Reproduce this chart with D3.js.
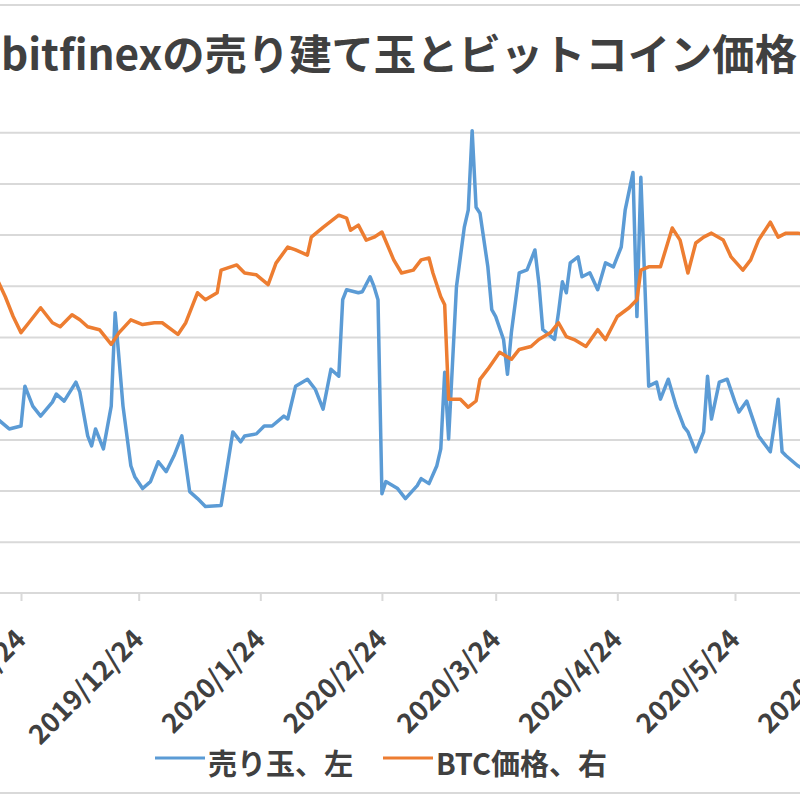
<!DOCTYPE html>
<html><head><meta charset="utf-8">
<script src="https://cdn.jsdelivr.net/npm/d3@7"></script>
<style>html,body{margin:0;padding:0;background:#fff;} svg{display:block;}</style>
</head><body>
<svg id="c" width="800" height="800"></svg>
<script>
const titleText = "bitfinexの売り建て玉とビットコイン価格";
const seriesNames = ["売り玉、左", "BTC価格、右"];
const tickDates = ["2019-11-24","2019-12-24","2020-01-24","2020-02-24","2020-03-24","2020-04-24","2020-05-24","2020-06-24"];
const leftTicks = [5000,10000,15000,20000,25000,30000,35000,40000,45000];

const shortDates = ["2019-11-18","2019-11-21","2019-11-24","2019-11-25","2019-11-27","2019-11-29",
"2019-12-02","2019-12-03","2019-12-05","2019-12-08","2019-12-09","2019-12-11","2019-12-12","2019-12-13","2019-12-15","2019-12-17","2019-12-18","2019-12-20","2019-12-22","2019-12-23","2019-12-25","2019-12-27","2019-12-29","2019-12-31",
"2020-01-02","2020-01-04","2020-01-06","2020-01-08","2020-01-10","2020-01-14","2020-01-17","2020-01-19","2020-01-20","2020-01-23","2020-01-25","2020-01-27","2020-01-30","2020-01-31",
"2020-02-02","2020-02-05","2020-02-07","2020-02-09","2020-02-11","2020-02-13","2020-02-14","2020-02-15","2020-02-18","2020-02-19","2020-02-21","2020-02-22","2020-02-23","2020-02-24","2020-02-25","2020-02-28",
"2020-03-01","2020-03-04","2020-03-05","2020-03-07","2020-03-09","2020-03-10","2020-03-11","2020-03-12","2020-03-14","2020-03-16","2020-03-17","2020-03-18","2020-03-19","2020-03-20","2020-03-22","2020-03-23","2020-03-24","2020-03-26","2020-03-27","2020-03-28","2020-03-30",
"2020-04-01","2020-04-03","2020-04-04","2020-04-05","2020-04-08","2020-04-09","2020-04-10","2020-04-11","2020-04-12","2020-04-14","2020-04-15","2020-04-17","2020-04-19","2020-04-21","2020-04-23","2020-04-25","2020-04-26","2020-04-28","2020-04-29","2020-04-30",
"2020-05-02","2020-05-04","2020-05-05","2020-05-07","2020-05-09","2020-05-11","2020-05-12","2020-05-14","2020-05-16","2020-05-17","2020-05-18","2020-05-20","2020-05-22","2020-05-24","2020-05-25","2020-05-27","2020-05-30",
"2020-06-02","2020-06-04","2020-06-05","2020-06-06","2020-06-09","2020-06-12"];
const shortValues = [16990,16020,16310,20200,18250,17280,
18640,19420,18740,20590,19610,15340,14370,16020,14080,18250,27380,18250,12430,11360,10200,10880,12820,11850,
13400,15340,9900,9220,8450,8540,15730,14760,15340,15540,16310,16310,17280,16990,
20200,20880,19900,17960,21850,21170,28640,29620,29320,29420,30880,29910,28640,9700,10880,10200,
9220,10490,11170,10680,12430,14080,21560,15050,29910,35730,37380,45150,37670,37090,31850,27670,26990,24760,21360,25440,31270,
31560,33500,30300,25730,24760,27380,30390,29320,32240,32820,30880,31270,29620,32240,31850,33790,37380,41070,26990,40590,
20200,20590,18930,20880,18250,16220,15730,13790,15730,21170,16990,20590,20880,18640,17670,18740,15340,
13790,18930,13790,13400,12430,11800];

const priceDates = ["2019-11-18","2019-11-20","2019-11-22","2019-11-24","2019-11-26","2019-11-29",
"2019-12-02","2019-12-04","2019-12-07","2019-12-09","2019-12-11","2019-12-14","2019-12-17","2019-12-19","2019-12-22","2019-12-25","2019-12-28","2019-12-30",
"2020-01-03","2020-01-05","2020-01-07","2020-01-08","2020-01-10","2020-01-13","2020-01-14","2020-01-18","2020-01-20","2020-01-23","2020-01-26","2020-01-28","2020-01-31",
"2020-02-02","2020-02-05","2020-02-06","2020-02-09","2020-02-13","2020-02-15","2020-02-16","2020-02-18","2020-02-20","2020-02-22","2020-02-24","2020-02-27","2020-02-29",
"2020-03-03","2020-03-05","2020-03-07","2020-03-08","2020-03-10","2020-03-11","2020-03-12","2020-03-15","2020-03-17","2020-03-19","2020-03-20","2020-03-22","2020-03-25","2020-03-28","2020-03-30",
"2020-04-02","2020-04-04","2020-04-07","2020-04-09","2020-04-11","2020-04-13","2020-04-16","2020-04-19","2020-04-21","2020-04-24","2020-04-27","2020-04-29","2020-04-30",
"2020-05-02","2020-05-05","2020-05-08","2020-05-10","2020-05-12","2020-05-14","2020-05-16","2020-05-18","2020-05-21","2020-05-23","2020-05-26","2020-05-28","2020-05-30",
"2020-06-02","2020-06-04","2020-06-06","2020-06-09","2020-06-12"];
const priceValues = [8560,8100,7560,7120,7390,7800,
7390,7280,7610,7470,7280,7200,6800,7120,7470,7340,7390,7390,
7070,7390,7940,8210,8020,8210,8830,8970,8750,8700,8430,9020,9460,
9380,9240,9730,10000,10330,10250,9920,10060,9650,9730,9870,9110,8750,
8830,9110,9160,8750,8100,7880,5300,5300,5080,5250,5840,6120,6580,6390,6660,
6740,6930,7120,7390,7010,6930,6740,7200,6930,7560,7800,8020,8830,
8920,8920,9980,9650,8750,9570,9730,9840,9650,9190,8830,9110,9650,
10140,9730,9840,9840,9800];

const W = 800, H = 800;
const parse = d3.timeParse("%Y-%m-%d");
const fmt = d3.timeFormat("%Y/%-m/%-d");
const svg = d3.select("#c");
const x = d3.scaleTime().domain([parse("2019-11-24"), parse("2020-05-24")]).range([21, 735]);
const yL = d3.scaleLinear().domain([0, 50000]).range([593, 81]);
const yR = d3.scaleLinear().domain([0, 14000]).range([593, 81]);
const gridC = "#d9d9d9";
const textC = "#404040";
const font = "'Noto Sans CJK JP', 'Noto Sans', sans-serif";

// frame lines (chart area border)
svg.append("line").attr("x1",0).attr("x2",W).attr("y1",5).attr("y2",5).attr("stroke",gridC).attr("stroke-width",2);
svg.append("line").attr("x1",0).attr("x2",W).attr("y1",793).attr("y2",793).attr("stroke",gridC).attr("stroke-width",2);

// gridlines
const g = svg.append("g").call(d3.axisRight(yL).tickValues(leftTicks).tickSize(W).tickFormat(""));
g.select(".domain").remove();
g.selectAll(".tick line").attr("stroke", gridC).attr("stroke-width", 2);

// x axis
svg.append("line").attr("x1",0).attr("x2",W).attr("y1",yL(0)).attr("y2",yL(0)).attr("stroke",gridC).attr("stroke-width",2);
const xa = svg.append("g").attr("transform", `translate(0,${yL(0)})`)
  .call(d3.axisBottom(x).tickValues(tickDates.map(parse)).tickSize(8).tickFormat(fmt));
xa.select(".domain").remove();
xa.selectAll(".tick line").attr("stroke", gridC).attr("stroke-width", 2);
xa.selectAll(".tick text")
  .attr("x",0).attr("y",0).attr("dy",0)
  .attr("transform","translate(6,48) rotate(-45)")
  .attr("text-anchor","end")
  .attr("fill", textC)
  .style("font-family", font).style("font-size","27px").style("font-weight","bold");

// lines
const shortData = shortDates.map((d,i)=>({date:parse(d), v:shortValues[i]}));
const priceData = priceDates.map((d,i)=>({date:parse(d), v:priceValues[i]}));
svg.append("path").datum(shortData)
  .attr("fill","none").attr("stroke","#5b9bd5").attr("stroke-width",3.5).attr("stroke-linejoin","round")
  .attr("d", d3.line().x(d=>x(d.date)).y(d=>yL(d.v)));
svg.append("path").datum(priceData)
  .attr("fill","none").attr("stroke","#ed7d31").attr("stroke-width",3.5).attr("stroke-linejoin","round")
  .attr("d", d3.line().x(d=>x(d.date)).y(d=>yR(d.v)));

// title
svg.append("text").attr("x",1).attr("y",70).text(titleText)
  .attr("textLength", 796).attr("lengthAdjust","spacingAndGlyphs")
  .attr("fill", textC).style("font-family", font).style("font-size","42px").style("font-weight","bold");

// legend
const legend = [{name:seriesNames[0], color:"#5b9bd5", x:155},{name:seriesNames[1], color:"#ed7d31", x:383}];
const lg = svg.append("g").selectAll("g").data(legend).join("g").attr("transform", d=>`translate(${d.x},0)`);
lg.append("line").attr("x1",0).attr("x2",50).attr("y1",758).attr("y2",758).attr("stroke",d=>d.color).attr("stroke-width",3);
lg.append("text").attr("x",53).attr("y",775).text(d=>d.name)
  .attr("fill", textC).style("font-family", font).style("font-size","29px").style("font-weight","bold");
</script>
</body></html>
